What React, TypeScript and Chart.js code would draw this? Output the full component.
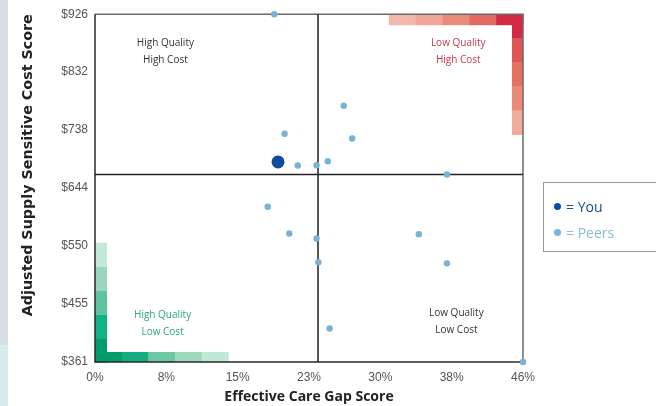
import React, { useEffect, useRef } from 'react';
import { Chart, registerables } from 'chart.js';
Chart.register(...registerables);

// ---- data ----
const xTickLabels = ['0%', '8%', '15%', '23%', '30%', '38%', '46%'];
const yTickLabels = ['$361', '$455', '$550', '$644', '$738', '$832', '$926'];
const xMin = 0;
const xMax = 45.6;
const yMin = 361.2;
const yMax = 926.4;

const peerX = [19.1, 20.2, 21.6, 23.6, 24.8, 26.5, 27.4, 37.5, 18.4, 20.7, 23.6, 23.8, 34.5, 37.5, 25.0, 45.6];
const peerY = [926.4, 732.1, 680.5, 680.9, 687.4, 777.8, 724.5, 665.9, 613.6, 570.0, 561.9, 523.2, 569.0, 521.5, 415.6, 361.2];
const youX = [19.5];
const youY = [686.3];

const dividerX = 23.76;
const dividerY = 665.9;

const quadrantLabels = [
  { lines: ['High Quality', 'High Cost'], x: 7.5, y: 866, color: '#333333' },
  { lines: ['Low Quality', 'High Cost'], x: 38.7, y: 866, color: '#c8344c' },
  { lines: ['High Quality', 'Low Cost'], x: 7.2, y: 423, color: '#2aa57f' },
  { lines: ['Low Quality', 'Low Cost'], x: 38.5, y: 427, color: '#333333' },
];

// decorative gradient bands (data-unit extents)
const redTopStart = 31.3;
const redTopColors = ['#f2b8ad', '#efa597', '#ea8b7e', '#e36a62', '#d42a44'];
const redSideEnd = 731;
const redSideColors = ['#d42a44', '#de5655', '#e5725f', '#ea8a76', '#f0ab9b'];
const greenSideEnd = 555;
const greenSideColors = ['#009c6c', '#0fb383', '#5ec4a0', '#9ad6bd', '#c4e8d8'];
const greenBottomEnd = 14.2;
const greenBottomColors = ['#009c6c', '#16ad7e', '#6cc7a5', '#9dd8bf', '#c0e8d6'];

const BAND = 11;

const quadrantPlugin = {
  id: 'quadrantDecor',
  beforeDatasetsDraw(chart: any) {
    const { ctx, chartArea: a, scales } = chart;
    const xs = scales.x;
    const ys = scales.y;
    ctx.save();
    // red top band (left -> right)
    const rx0 = xs.getPixelForValue(redTopStart);
    const rw = (a.right - rx0) / redTopColors.length;
    redTopColors.forEach((c, i) => {
      ctx.fillStyle = c;
      ctx.fillRect(rx0 + i * rw, a.top, rw + 0.5, BAND);
    });
    // red side band (top -> bottom)
    const ry1 = ys.getPixelForValue(redSideEnd);
    const rh = (ry1 - a.top) / redSideColors.length;
    redSideColors.forEach((c, i) => {
      ctx.fillStyle = c;
      ctx.fillRect(a.right - BAND, a.top + i * rh, BAND, rh + 0.5);
    });
    // green side band (bottom -> top)
    const gy1 = ys.getPixelForValue(greenSideEnd);
    const gh = (a.bottom - gy1) / greenSideColors.length;
    greenSideColors.forEach((c, i) => {
      ctx.fillStyle = c;
      ctx.fillRect(a.left, a.bottom - (i + 1) * gh, BAND + 1, gh + 0.5);
    });
    // green bottom band (left -> right)
    const gx1 = xs.getPixelForValue(greenBottomEnd);
    const gw = (gx1 - a.left) / greenBottomColors.length;
    greenBottomColors.forEach((c, i) => {
      ctx.fillStyle = c;
      ctx.fillRect(a.left + i * gw, a.bottom - BAND + 1, gw + 0.5, BAND - 1);
    });

    // quadrant labels
    ctx.font = '10px "Open Sans"';
    ctx.textAlign = 'center';
    ctx.textBaseline = 'middle';
    quadrantLabels.forEach((q) => {
      const px = xs.getPixelForValue(q.x);
      const py = ys.getPixelForValue(q.y);
      ctx.fillStyle = q.color;
      ctx.fillText(q.lines[0], px, py - 8.5);
      ctx.fillText(q.lines[1], px, py + 8.5);
    });

    // plot frame
    ctx.lineWidth = 1.5;
    ctx.strokeStyle = '#6a6a6a';
    ctx.beginPath();
    ctx.moveTo(a.left, a.top);
    ctx.lineTo(a.right, a.top);
    ctx.lineTo(a.right, a.bottom);
    ctx.stroke();
    ctx.strokeStyle = '#2a2a2a';
    ctx.beginPath();
    ctx.moveTo(a.left, a.top);
    ctx.lineTo(a.left, a.bottom);
    ctx.lineTo(a.right, a.bottom);
    ctx.stroke();

    // quadrant dividers
    const dx = xs.getPixelForValue(dividerX);
    const dy = ys.getPixelForValue(dividerY);
    ctx.strokeStyle = '#222222';
    ctx.lineWidth = 1.5;
    ctx.beginPath();
    ctx.moveTo(dx, a.top);
    ctx.lineTo(dx, a.bottom);
    ctx.moveTo(a.left, dy);
    ctx.lineTo(a.right, dy);
    ctx.stroke();
    ctx.restore();
  },
};

export default function App() {
  const canvasRef = useRef<HTMLCanvasElement | null>(null);

  useEffect(() => {
    document.body.style.margin = '0';
    const canvas = canvasRef.current;
    if (!canvas) return;
    const xStep = (xMax - xMin) / (xTickLabels.length - 1);
    const yStep = (yMax - yMin) / (yTickLabels.length - 1);
    const chart = new Chart(canvas, {
      type: 'scatter',
      data: {
        datasets: [
          {
            label: 'You',
            data: youX.map((v, i) => ({ x: v, y: youY[i] })),
            backgroundColor: '#0d4c9e',
            borderColor: '#0d4c9e',
            pointRadius: 6.5,
            borderWidth: 0,
            clip: false,
          } as any,
          {
            label: 'Peers',
            data: peerX.map((v, i) => ({ x: v, y: peerY[i] })),
            backgroundColor: '#78b2d4',
            borderColor: '#78b2d4',
            pointRadius: 3.2,
            borderWidth: 0,
            clip: false,
          } as any,
        ],
      },
      options: {
        animation: false,
        responsive: true,
        maintainAspectRatio: false,
        layout: { padding: { left: 0, top: 12, right: 133, bottom: 0 } },
        plugins: { legend: { display: false }, tooltip: { enabled: false } },
        scales: {
          x: {
            type: 'linear',
            min: xMin,
            max: xMax,
            afterBuildTicks: (s: any) => {
              s.ticks = xTickLabels.map((_, i) => ({ value: xMin + i * xStep }));
            },
            afterFit: (s: any) => {
              s.height = 44;
            },
            grid: { display: false, drawTicks: false },
            border: { display: false },
            ticks: {
              padding: 8,
              color: '#555555',
              font: { family: '"Liberation Sans"', size: 12 },
              callback: (_v: any, i: number) => xTickLabels[i],
              maxRotation: 0,
            },
            title: {
              display: true,
              text: 'Effective Care Gap Score',
              color: '#222222',
              font: { family: '"Open Sans"', size: 14, weight: 'bold' },
              padding: { top: 0, bottom: 1 },
            },
          },
          y: {
            type: 'linear',
            min: yMin,
            max: yMax,
            afterBuildTicks: (s: any) => {
              s.ticks = yTickLabels.map((_, i) => ({ value: yMin + i * yStep }));
            },
            afterFit: (s: any) => {
              s.width = 95;
            },
            grid: { display: false, drawTicks: false },
            border: { display: false },
            ticks: {
              padding: 7,
              color: '#555555',
              font: { family: '"Liberation Sans"', size: 12 },
              callback: (_v: any, i: number) => yTickLabels[i],
            },
            title: {
              display: true,
              text: 'Adjusted Supply Sensitive Cost Score',
              align: 'end',
              color: '#222222',
              font: { family: '"DejaVu Sans"', size: 14.3, weight: 'bold' },
              padding: { top: 20, bottom: 0 },
            },
          },
        },
      },
      plugins: [quadrantPlugin],
    } as any);
    return () => chart.destroy();
  }, []);

  return (
    <div style={{ position: 'absolute', left: 0, top: 0, width: 656, height: 406, background: '#ffffff', overflow: 'hidden' }}>
      <div style={{ position: 'absolute', left: 0, top: 0, width: 8, height: 345, background: '#d6dfe5' }} />
      <div style={{ position: 'absolute', left: 0, top: 345, width: 8, height: 61, background: '#d8ebeb' }} />
      <div style={{ position: 'absolute', left: 0, top: 0, width: 656, height: 406 }}>
        <canvas ref={canvasRef} />
      </div>
      <div
        style={{
          position: 'absolute',
          left: 543,
          top: 182,
          width: 120,
          height: 70,
          border: '1px solid #9a9a9a',
          boxSizing: 'border-box',
          fontFamily: '"Open Sans", sans-serif',
          fontSize: 14,
        }}
      >
        <div style={{ position: 'absolute', left: 10, top: 14, color: '#1a4d8f', display: 'flex', alignItems: 'center' }}>
          <span style={{ display: 'inline-block', width: 7, height: 7, borderRadius: '50%', background: '#0d4c9e', marginRight: 5 }} />
          <span>= You</span>
        </div>
        <div style={{ position: 'absolute', left: 10, top: 40, color: '#86bbd9', display: 'flex', alignItems: 'center' }}>
          <span style={{ display: 'inline-block', width: 7, height: 7, borderRadius: '50%', background: '#78b2d4', marginRight: 5 }} />
          <span>= Peers</span>
        </div>
      </div>
    </div>
  );
}
